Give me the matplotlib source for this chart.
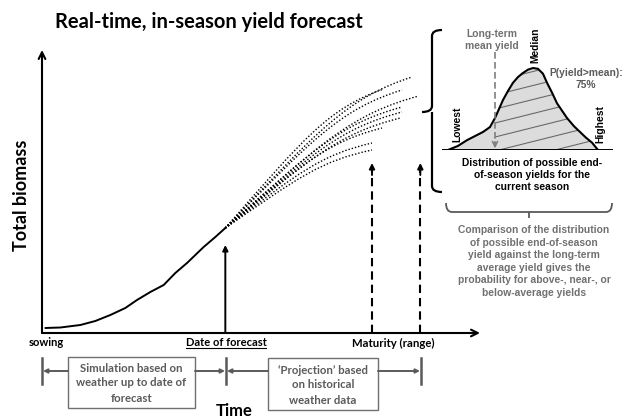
import matplotlib
matplotlib.use("Agg")
import matplotlib.pyplot as plt
from matplotlib.path import Path
from matplotlib.patches import PathPatch, Rectangle, Polygon

# ---------------- data ----------------
sim_days = [2, 11, 23, 32, 41, 50, 57, 65, 73, 80, 87, 97, 104, 110]
sim_biomass = [0.5, 0.55, 0.8, 1.2, 1.8, 2.5, 3.3, 4.1, 4.8, 6.0, 7.0, 8.6, 9.6, 10.5]
forecast_day = 110
maturity_range = [198, 227]
proj_end_day = [222, 205, 216, 226, 216, 216, 215, 204, 198, 198]
proj_end_biomass = [25.6, 24.4, 24.3, 23.7, 22.6, 22.1, 21.5, 20.5, 19.0, 18.3]

dist_yield = [0.3, 0.8, 1.25, 1.65, 2.05, 2.4, 2.65, 3.05, 3.3, 3.55, 3.8, 4.05, 4.3,
              4.55, 4.8, 5.05, 5.25, 5.5, 5.75, 6.0, 6.25, 6.6, 6.9, 7.2, 7.5, 7.8]
dist_density = [0, 0.05, 0.12, 0.17, 0.22, 0.28, 0.39, 0.61, 0.72, 0.82, 0.89, 0.94, 0.98,
                1.0, 0.99, 0.93, 0.82, 0.70, 0.57, 0.48, 0.39, 0.29, 0.22, 0.15, 0.09, 0]
mean_yield = 2.65
p_above_mean = 75

# ---------------- figure ----------------
W, H = 626, 418
fig = plt.figure(figsize=(W / 100, H / 100), dpi=100)
bg = fig.add_axes([0, 0, 1, 1])
bg.set_xlim(0, W); bg.set_ylim(H, 0); bg.axis('off')

CAL = ['Lato', 'DejaVu Sans']
ARI = ['Liberation Sans', 'DejaVu Sans']
GRAY = '#5a5a5a'
LGRAY = '#707070'
RFS = 7.4  # right panel font size


def frac_rect(x0, y0, x1, y1):
    return [x0 / W, (H - y1) / H, (x1 - x0) / W, (y1 - y0) / H]


# main chart axes
ax = fig.add_axes(frac_rect(42, 50, 480, 333))
ax.set_xlim(0, 262.8); ax.set_ylim(0, 28.3); ax.axis('off')
ax.patch.set_visible(False)

ax.annotate('', xy=(0, 1), xytext=(0, 0), xycoords='axes fraction',
            arrowprops=dict(arrowstyle='->', lw=1.5, color='black', shrinkA=0, shrinkB=0,
                            mutation_scale=12))
ax.annotate('', xy=(1, 0), xytext=(0, 0), xycoords='axes fraction',
            arrowprops=dict(arrowstyle='->', lw=1.5, color='black', shrinkA=0, shrinkB=0,
                            mutation_scale=12))

ax.plot(sim_days, sim_biomass, color='black', lw=1.4, solid_capstyle='round', zorder=3)

x0, y0 = sim_days[-1], sim_biomass[-1]
for d, b in zip(proj_end_day, proj_end_biomass):
    dx = d - x0
    m = (b - y0) / dx
    s0, s1 = 1.3 * m, 0.4 * m
    verts = [(x0, y0), (x0 + 0.5 * dx, y0 + 0.5 * dx * s0),
             (d - 0.35 * dx, b - 0.35 * dx * s1), (d, b)]
    codes = [Path.MOVETO, Path.CURVE4, Path.CURVE4, Path.CURVE4]
    ax.add_patch(PathPatch(Path(verts, codes), fill=False, lw=1.0, edgecolor='black',
                           linestyle=(0, (1, 1.4)), capstyle='butt', zorder=2))

# forecast arrow
ax.annotate('', xy=(forecast_day, 8.8), xytext=(forecast_day, 0),
            arrowprops=dict(arrowstyle='-|>', lw=1.4, color='black', shrinkA=0, shrinkB=0,
                            mutation_scale=8))
# maturity dashed arrows
for md in maturity_range:
    ax.plot([md, md], [0, 16.3], color='black', lw=1.5, linestyle=(0, (4, 2.4)))
    ax.annotate('', xy=(md, 17.0), xytext=(md, 15.8),
                arrowprops=dict(arrowstyle='-|>', lw=1.4, color='black', shrinkA=0,
                                shrinkB=0, mutation_scale=8))

# ---------------- distribution inset ----------------
axd = fig.add_axes(frac_rect(442, 50, 613, 150))
axd.set_xlim(0, 8.55); axd.set_ylim(0, 100 / 82); axd.axis('off')
axd.patch.set_visible(False)
pts = list(zip(dist_yield, dist_density))
axd.add_patch(Polygon(pts, closed=True, facecolor='#dcdcdc', edgecolor='none', zorder=1))
clip_pts = [(mean_yield, 0)] + [(x, y) for x, y in pts if x >= mean_yield]
clip_poly = Polygon(clip_pts, closed=True, transform=axd.transData)
for c in [67, 81, 95, 109, 123, 137, 151, 165, 179]:
    xs = [495, 613]
    ys = [c - 0.25 * (x - 495) for x in xs]
    ln, = axd.plot(xs, ys, color='#6a6a6a', lw=0.8, transform=bg.transData, zorder=2)
    ln.set_clip_path(clip_poly)
axd.plot(dist_yield, dist_density, color='black', lw=1.5, zorder=3)
axd.axhline(0, color='black', lw=1.4, zorder=3)
axd.plot([mean_yield, mean_yield], [1.195, 0.04], color='#7f7f7f', lw=1.2,
         linestyle=(0, (4, 2)), zorder=4, clip_on=False)
axd.annotate('', xy=(mean_yield, 0.02), xytext=(mean_yield, 0.1),
             arrowprops=dict(arrowstyle='->', lw=1.2, color='#7f7f7f', shrinkA=0, shrinkB=0,
                             mutation_scale=9))

# ---------------- texts ----------------
bg.text(209, 22, 'Real-time, in-season yield forecast', family=CAL, weight='bold',
        fontsize=14.5, ha='center', va='center')
bg.text(22, 195, 'Total biomass', family=CAL, weight='bold', fontsize=13, rotation=90,
        ha='center', va='center')
bg.text(46, 343, 'sowing', family=CAL, weight='bold', fontsize=8, ha='center', va='center')
t_dof = bg.text(226, 343, 'Date of forecast', family=CAL, weight='bold', fontsize=8,
                ha='center', va='center')
bg.text(393, 343, 'Maturity (range)', family=CAL, weight='bold', fontsize=8.2, ha='center',
        va='center')
bg.text(234, 411, 'Time', family=CAL, weight='bold', fontsize=12, ha='center', va='center')

# right panel
bg.text(492, 34, 'Long-term', family=ARI, weight='bold', fontsize=RFS, color=LGRAY,
        ha='center', va='center')
bg.text(492, 46, 'mean yield', family=ARI, weight='bold', fontsize=RFS, color=LGRAY,
        ha='center', va='center')
bg.text(535, 45, 'Median', family=ARI, weight='bold', fontsize=RFS, rotation=90,
        ha='center', va='center')
bg.text(586, 73, 'P(yield>mean):', family=ARI, weight='bold', fontsize=RFS, color=GRAY,
        ha='center', va='center')
bg.text(586, 85, f'{p_above_mean}%', family=ARI, weight='bold', fontsize=RFS, color=GRAY,
        ha='center', va='center')
bg.text(457, 124, 'Lowest', family=ARI, weight='bold', fontsize=RFS, rotation=90,
        ha='center', va='center')
bg.text(600, 124, 'Highest', family=ARI, weight='bold', fontsize=RFS, rotation=90,
        ha='center', va='center')
for yy, s in zip([163, 175.5, 187.5], ['Distribution of possible end-',
                                       'of-season yields for the', 'current season']):
    bg.text(532, yy, s, family=ARI, weight='bold', fontsize=RFS, ha='center', va='center')
comp = ['Comparison of the distribution', 'of possible end-of-season',
        'yield against the long-term', 'average yield gives the',
        'probability for above-, near-, or', 'below-average yields']
for i, s in enumerate(comp):
    bg.text(534, 230 + 12.6 * i, s, family=ARI, weight='bold', fontsize=RFS, color=LGRAY,
            ha='center', va='center')

# right curly bracket
br = Path([(442, 30), (432, 30), (432, 36), (432, 106), (432, 112), (422, 112),
           (432, 112), (432, 118), (432, 186), (432, 192), (442, 192)],
          [Path.MOVETO, Path.CURVE3, Path.CURVE3, Path.LINETO, Path.CURVE3, Path.CURVE3,
           Path.MOVETO, Path.CURVE3, Path.LINETO, Path.CURVE3, Path.CURVE3])
bg.add_patch(PathPatch(br, fill=False, lw=1.6, edgecolor='black'))
# bottom brace
bb = Path([(446, 203), (446, 212), (452, 212), (606, 212), (612, 212), (612, 203),
           (529, 212), (529, 218)],
          [Path.MOVETO, Path.CURVE3, Path.CURVE3, Path.LINETO, Path.CURVE3, Path.CURVE3,
           Path.MOVETO, Path.LINETO])
bg.add_patch(PathPatch(bb, fill=False, lw=1.3, edgecolor=GRAY))

# bottom boxes & arrows
for x in [42, 226, 421]:
    bg.plot([x, x], [358, 384], color=GRAY, lw=1.8)
bg.add_patch(Rectangle((68, 357), 127, 51, facecolor='white', edgecolor=LGRAY, lw=1.0))
bg.add_patch(Rectangle((268, 358), 110, 52, facecolor='white', edgecolor=LGRAY, lw=1.0))
for (xa, xb) in [(68, 43), (195, 225), (268, 227), (378, 420)]:
    bg.annotate('', xy=(xb, 371), xytext=(xa, 371),
                arrowprops=dict(arrowstyle='-|>', lw=1.4, color=GRAY, shrinkA=0, shrinkB=0,
                                mutation_scale=6))
for yy, s in zip([368, 383, 398], ['Simulation based on', 'weather up to date of',
                                   'forecast']):
    bg.text(131.5, yy, s, family=CAL, weight='bold', fontsize=8.2, color=GRAY,
            ha='center', va='center')
for yy, s in zip([370, 385, 400], ['\u2018Projection\u2019 based', 'on historical',
                                   'weather data']):
    bg.text(323, yy, s, family=CAL, weight='bold', fontsize=8.2, color=GRAY,
            ha='center', va='center')

# underline "Date of forecast"
fig.canvas.draw()
bb_t = t_dof.get_window_extent()
inv = bg.transData.inverted()
(ux0, uy0), (ux1, _) = inv.transform([(bb_t.x0, bb_t.y0), (bb_t.x1, bb_t.y0)])
bg.plot([ux0, ux1], [uy0 - 0.5, uy0 - 0.5], color='black', lw=0.8)

fig.savefig('out.png', dpi=100)
